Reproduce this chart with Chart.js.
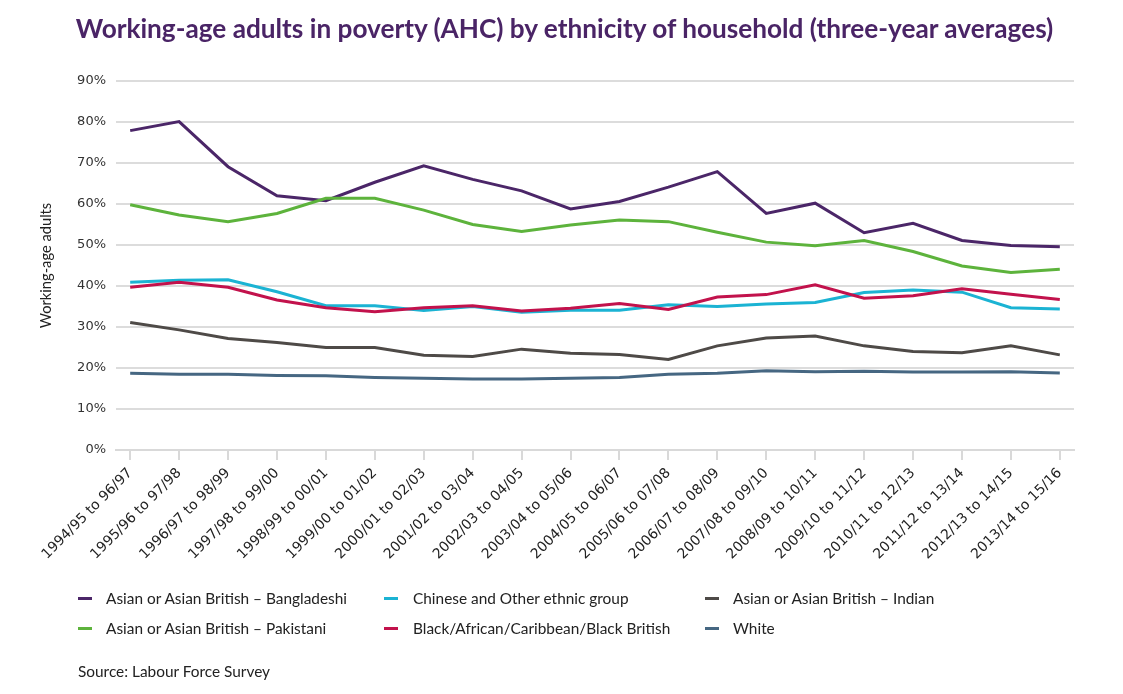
<!DOCTYPE html>
<html>
<head>
<meta charset="utf-8">
<script src="https://cdn.jsdelivr.net/npm/chart.js@4.4.1/dist/chart.umd.min.js"></script>
<style>
  html, body { margin: 0; padding: 0; background: #ffffff; }
  body { width: 1123px; height: 694px; position: relative; overflow: hidden; font-family: Lato, "Noto Sans", sans-serif; }
  #title { position: absolute; left: 3px; width: 1123px; top: 12px; text-align: center; font-size: 26.2px; font-weight: 700; color: #4a2466; letter-spacing: 0px; }
  #chartWrap { position: absolute; left: 0; top: 0; width: 1123px; height: 694px; }
  #legend { position: absolute; left: 0; top: 588px; width: 1123px; height: 60px; }
  .li { position: absolute; font-size: 15.4px; color: #222; white-space: nowrap; height: 20px; line-height: 20px; }
  .li .mk { position: absolute; top: 9px; width: 14px; height: 3px; }
  .li .tx { position: absolute; top: 0; }
  #source { position: absolute; left: 78px; top: 662px; font-size: 15.4px; color: #222; }
</style>
</head>
<body>
<div id="chartWrap"><canvas id="c" width="1123" height="694"></canvas></div>
<div id="title">Working-age adults in poverty (AHC) by ethnicity of household (three-year averages)</div>
<div id="legend"></div>
<div id="source">Source: Labour Force Survey</div>
<script>
const categories = [
  "1994/95 to 96/97","1995/96 to 97/98","1996/97 to 98/99","1997/98 to 99/00",
  "1998/99 to 00/01","1999/00 to 01/02","2000/01 to 02/03","2001/02 to 03/04",
  "2002/03 to 04/05","2003/04 to 05/06","2004/05 to 06/07","2005/06 to 07/08",
  "2006/07 to 08/09","2007/08 to 09/10","2008/09 to 10/11","2009/10 to 11/12",
  "2010/11 to 12/13","2011/12 to 13/14","2012/13 to 14/15","2013/14 to 15/16"
];
const bangladeshi = [77.9,80.1,69.1,62.0,60.8,65.3,69.3,66.0,63.2,58.8,60.6,64.1,67.9,57.7,60.2,53.0,55.3,51.1,49.9,49.6];
const pakistani   = [59.8,57.3,55.7,57.7,61.4,61.4,58.5,55.0,53.3,54.9,56.1,55.7,53.1,50.7,49.8,51.1,48.4,44.9,43.3,44.1];
const chinese     = [40.9,41.4,41.5,38.6,35.2,35.2,34.0,35.0,33.6,34.1,34.1,35.4,35.0,35.6,36.0,38.4,39.0,38.5,34.7,34.4];
const black       = [39.7,40.9,39.7,36.6,34.7,33.7,34.7,35.2,33.9,34.6,35.7,34.3,37.3,37.9,40.3,37.0,37.6,39.3,38.0,36.7];
const indian      = [31.1,29.3,27.2,26.2,25.0,25.0,23.1,22.8,24.6,23.6,23.3,22.1,25.4,27.3,27.8,25.4,24.0,23.7,25.4,23.2];
const white       = [18.7,18.5,18.5,18.2,18.1,17.7,17.5,17.3,17.3,17.5,17.7,18.5,18.7,19.3,19.1,19.2,19.0,19.0,19.1,18.8];
const yTicks = [0,10,20,30,40,50,60,70,80,90];

const seriesNames = [
  "Asian or Asian British \u2013 Bangladeshi",
  "Asian or Asian British \u2013 Pakistani",
  "Chinese and Other ethnic group",
  "Black/African/Caribbean/Black British",
  "Asian or Asian British \u2013 Indian",
  "White"
];
const seriesData = [bangladeshi, pakistani, chinese, black, indian, white];
const seriesColors = ["#4b2668", "#5db33c", "#1bb3d3", "#c2124c", "#4e4a47", "#466782"];
const drawOrder = [5,4,3,2,1,0];

const datasets = seriesNames.map((n, i) => ({
  label: n,
  data: seriesData[i].map((v, j) => ({x: j, y: v})),
  borderColor: seriesColors[i],
  backgroundColor: seriesColors[i],
  borderWidth: 3,
  pointRadius: 0,
  tension: 0,
  fill: false,
  order: drawOrder[i]
}));

new Chart(document.getElementById('c'), {
  type: 'line',
  data: { datasets },
  options: {
    responsive: false,
    animation: false,
    devicePixelRatio: 1,
    layout: { padding: { left: 37, right: 49, top: 81, bottom: 114 } },
    plugins: { legend: { display: false }, title: { display: false }, tooltip: { enabled: false } },
    scales: {
      x: {
        type: 'linear',
        min: -0.29,
        max: 19.29,
        afterBuildTicks: (s) => { s.ticks = categories.map((_, i) => ({ value: i })); },
        afterFit: (s) => { s.height = 130; },
        ticks: {
          autoSkip: false,
          maxRotation: 45,
          minRotation: 45,
          padding: 5,
          color: '#222',
          font: { family: "'DejaVu Sans'", size: 14 },
          callback: (v) => categories[v]
        },
        grid: { drawOnChartArea: false, drawTicks: true, tickLength: 10, color: '#d9d9d9', lineWidth: 2 },
        border: { display: true, color: '#d9d9d9', width: 2 }
      },
      y: {
        min: 0,
        max: 90,
        afterBuildTicks: (s) => { s.ticks = yTicks.map(v => ({ value: v })); },
        afterFit: (s) => { s.width = 79; },
        ticks: {
          padding: 10,
          color: '#333',
          font: { family: "'DejaVu Sans'", size: 13 },
          callback: (v) => v + '%'
        },
        grid: { drawTicks: false, color: '#dcdcdc', lineWidth: 2 },
        border: { display: false },
        title: { display: true, text: 'Working-age adults', color: '#222', font: { family: 'Lato', size: 14.7 }, padding: { top: 0, bottom: 0 } }
      }
    }
  }
});

// HTML legend laid out in three columns like the reference
const legendOrder = [0, 2, 4, 1, 3, 5];
const colX = [78, 384, 705];
const textOff = [28, 29, 28];
const rowY = [0, 30];
const lg = document.getElementById('legend');
legendOrder.forEach((si, k) => {
  const col = k % 3, row = Math.floor(k / 3);
  const d = document.createElement('div');
  d.className = 'li';
  d.style.left = colX[col] + 'px';
  d.style.top = rowY[row] + 'px';
  const m = document.createElement('span');
  m.className = 'mk'; m.style.left = '0px'; m.style.background = seriesColors[si];
  const t = document.createElement('span');
  t.className = 'tx'; t.style.left = textOff[col] + 'px'; t.textContent = seriesNames[si];
  d.appendChild(m); d.appendChild(t);
  lg.appendChild(d);
});
</script>
</body>
</html>
